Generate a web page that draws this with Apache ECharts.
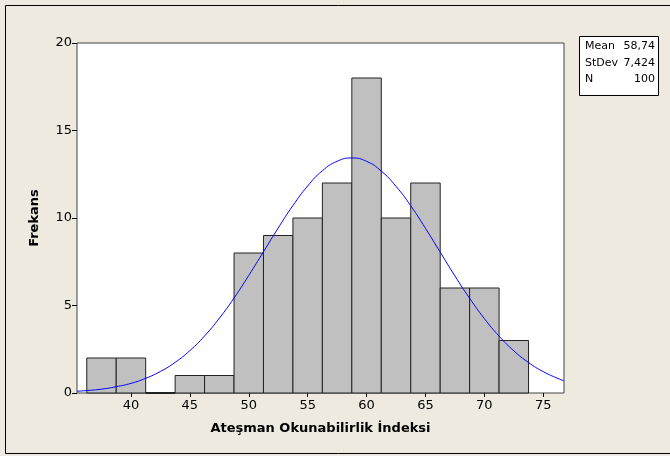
<!DOCTYPE html>
<html><head><meta charset="utf-8">
<script src="https://cdn.jsdelivr.net/npm/echarts@6/dist/echarts.min.js"></script>
<style>html,body{margin:0;padding:0;background:#EEEAE0}#c{width:670px;height:456px}</style>
</head><body><div id="c"></div>
<script>
// Histogram bins (centres) and frequencies
const binCenters = [37.5, 40, 42.5, 45, 47.5, 50, 52.5, 55, 57.5, 60, 62.5, 65, 67.5, 70, 72.5];
const frequencies = [2, 2, 0, 1, 1, 8, 9, 10, 12, 18, 10, 12, 6, 6, 3];
const binWidth = 2.5;
// Fitted normal curve
const curveX = [35.42, 36.25, 37.5, 38.75, 40, 41.25, 42.5, 43.75, 45, 46.25, 47.5, 48.75, 50, 51.25, 52.5, 53.75, 55, 56.25, 57.5, 58.74, 60, 61.25, 62.5, 63.75, 65, 66.25, 67.5, 68.75, 70, 71.25, 72.5, 73.75, 75, 76.25, 76.76];
const curveY = [0.10, 0.14, 0.22, 0.36, 0.55, 0.84, 1.23, 1.75, 2.42, 3.26, 4.27, 5.43, 6.72, 8.07, 9.43, 10.71, 11.83, 12.70, 13.24, 13.43, 13.24, 12.68, 11.81, 10.70, 9.41, 8.05, 6.69, 5.41, 4.25, 3.25, 2.41, 1.74, 1.22, 0.83, 0.70];
const xTicks = [40, 45, 50, 55, 60, 65, 70, 75];
const statNames = ['Mean', 'StDev', 'N'];
const statValues = ['58,74', '7,424', '100'];
const xTitle = 'Ateşman Okunabilirlik İndeksi';
const yTitle = 'Frekans';

const font = 'Tahoma, "DejaVu Sans", Verdana, sans-serif';
const chart = echarts.init(document.getElementById('c'), null, {renderer: 'canvas'});

const statGraphics = [];
statNames.forEach((n, i) => {
  statGraphics.push({type: 'text', x: 585, y: 41 + i * 16.5, z: 10,
    style: {text: n, font: '11px ' + font, fill: '#000'}});
  statGraphics.push({type: 'text', x: 655, y: 41 + i * 16.5, z: 10,
    style: {text: statValues[i], font: '11px ' + font, fill: '#000', align: 'right'}});
});

chart.setOption({
  backgroundColor: '#EEEAE0',
  animation: false,
  grid: {left: 77, top: 43, width: 487, height: 350, show: true, backgroundColor: '#fff', borderColor: '#444', borderWidth: 1},
  xAxis: {
    type: 'value', min: 35.42, max: 76.76,
    name: xTitle, nameLocation: 'middle', nameGap: 29,
    nameTextStyle: {fontFamily: font, fontWeight: 'bold', fontSize: 13, color: '#000'},
    axisLine: {show: false},
    axisTick: {show: true, length: 4, inside: false, customValues: xTicks, lineStyle: {color: '#000'}},
    axisLabel: {customValues: xTicks, fontFamily: font, fontSize: 13, color: '#000', margin: 6},
    splitLine: {show: false}
  },
  yAxis: {
    type: 'value', min: 0, max: 20, interval: 5,
    name: yTitle, nameLocation: 'middle', nameGap: 36, nameRotate: 90,
    nameTextStyle: {fontFamily: font, fontWeight: 'bold', fontSize: 13, color: '#000'},
    axisLine: {show: false},
    axisTick: {show: true, length: 5, lineStyle: {color: '#000'}},
    axisLabel: {fontFamily: font, fontSize: 13, color: '#000', margin: 5},
    splitLine: {show: false}
  },
  graphic: [
    {type: 'rect', z: -10, silent: true, shape: {x: 5.5, y: 5.5, width: 700, height: 448},
      style: {fill: 'none', stroke: '#000', lineWidth: 1}},
    {type: 'rect', z: 9, shape: {x: 579.5, y: 36.5, width: 79, height: 59},
      style: {fill: '#fff', stroke: '#000', lineWidth: 1}}
  ].concat(statGraphics),
  series: [
    {
      type: 'custom',
      data: binCenters.map((c, i) => [c, frequencies[i]]),
      renderItem: function (params, api) {
        const c = api.value(0), f = api.value(1);
        const p0 = api.coord([c - binWidth / 2, f]);
        const p1 = api.coord([c + binWidth / 2, 0]);
        return {type: 'rect', shape: {x: p0[0], y: p0[1], width: p1[0] - p0[0], height: p1[1] - p0[1]},
          style: {fill: '#C0C0C0', stroke: '#222', lineWidth: f === 0 ? 2 : 1}};
      },
      z: 2
    },
    {
      type: 'line', data: curveX.map((x, i) => [x, curveY[i]]), smooth: true, showSymbol: false,
      lineStyle: {color: '#0000FF', width: 1}, z: 3
    }
  ]
});
</script></body></html>
